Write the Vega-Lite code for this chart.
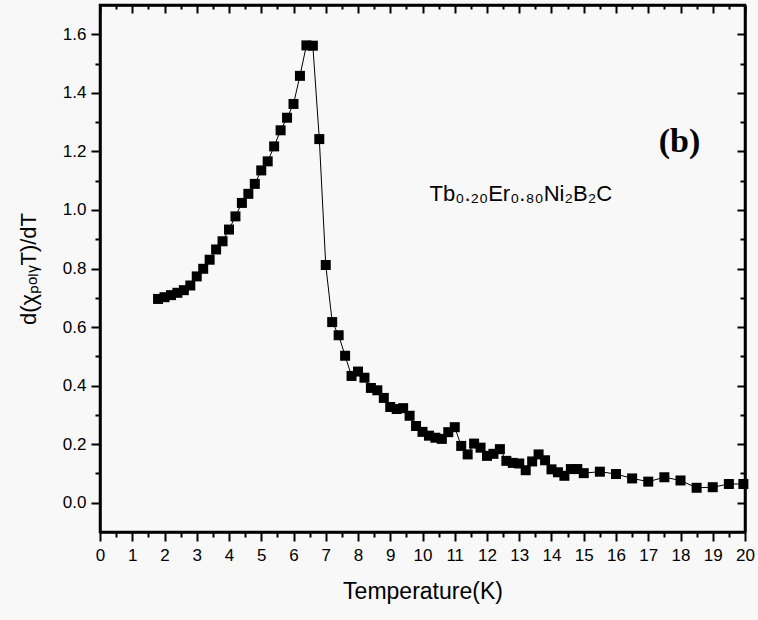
{
  "$schema": "https://vega.github.io/schema/vega-lite/v6.json",
  "width": 645,
  "height": 527,
  "autosize": {"type": "none"},
  "padding": {"left": 100, "top": 5, "right": 13, "bottom": 88},
  "background": "#f8f8f8",
  "view": {"stroke": "#000000", "strokeWidth": 2.5},
  "config": {
    "font": "Liberation Sans",
    "axis": {
      "domainColor": "#000000",
      "domainWidth": 2.5,
      "domainOpacity": 1,
      "tickColor": "#000000",
      "tickWidth": 2,
      "tickOpacity": 1,
      "labelColor": "#000000",
      "titleColor": "#000000",
      "grid": false,
      "labelFont": "Liberation Sans",
      "titleFont": "Liberation Sans",
      "labelFontSize": 17,
      "titleFontSize": 22,
      "titleFontWeight": "normal",
      "labelOverlap": false,
      "labelFlush": false
    }
  },
  "data": {
    "values": [
      {"T": 1.8, "v": 0.696}, {"T": 2.0, "v": 0.702}, {"T": 2.2, "v": 0.709}, {"T": 2.4, "v": 0.717},
      {"T": 2.6, "v": 0.726}, {"T": 2.8, "v": 0.742}, {"T": 3.0, "v": 0.773}, {"T": 3.2, "v": 0.799},
      {"T": 3.4, "v": 0.830}, {"T": 3.6, "v": 0.865}, {"T": 3.8, "v": 0.893}, {"T": 4.0, "v": 0.933},
      {"T": 4.2, "v": 0.978}, {"T": 4.4, "v": 1.024}, {"T": 4.6, "v": 1.055}, {"T": 4.8, "v": 1.089},
      {"T": 5.0, "v": 1.135}, {"T": 5.2, "v": 1.166}, {"T": 5.4, "v": 1.217}, {"T": 5.6, "v": 1.272},
      {"T": 5.8, "v": 1.315}, {"T": 6.0, "v": 1.362}, {"T": 6.2, "v": 1.458}, {"T": 6.4, "v": 1.562},
      {"T": 6.6, "v": 1.561}, {"T": 6.8, "v": 1.242}, {"T": 7.0, "v": 0.812}, {"T": 7.2, "v": 0.617},
      {"T": 7.4, "v": 0.572}, {"T": 7.6, "v": 0.502}, {"T": 7.8, "v": 0.433}, {"T": 8.0, "v": 0.448},
      {"T": 8.2, "v": 0.427}, {"T": 8.4, "v": 0.392}, {"T": 8.6, "v": 0.384}, {"T": 8.8, "v": 0.358},
      {"T": 9.0, "v": 0.327}, {"T": 9.2, "v": 0.320}, {"T": 9.4, "v": 0.323}, {"T": 9.6, "v": 0.297},
      {"T": 9.8, "v": 0.262}, {"T": 10.0, "v": 0.242}, {"T": 10.2, "v": 0.229}, {"T": 10.4, "v": 0.222},
      {"T": 10.6, "v": 0.218}, {"T": 10.8, "v": 0.241}, {"T": 11.0, "v": 0.258}, {"T": 11.2, "v": 0.194},
      {"T": 11.4, "v": 0.165}, {"T": 11.6, "v": 0.202}, {"T": 11.8, "v": 0.188}, {"T": 12.0, "v": 0.160},
      {"T": 12.2, "v": 0.167}, {"T": 12.4, "v": 0.183}, {"T": 12.6, "v": 0.143}, {"T": 12.8, "v": 0.136},
      {"T": 13.0, "v": 0.134}, {"T": 13.2, "v": 0.111}, {"T": 13.4, "v": 0.141}, {"T": 13.6, "v": 0.165},
      {"T": 13.8, "v": 0.145}, {"T": 14.0, "v": 0.114}, {"T": 14.2, "v": 0.104}, {"T": 14.4, "v": 0.092},
      {"T": 14.6, "v": 0.115}, {"T": 14.8, "v": 0.115}, {"T": 15.0, "v": 0.101}, {"T": 15.5, "v": 0.106},
      {"T": 16.0, "v": 0.098}, {"T": 16.5, "v": 0.083}, {"T": 17.0, "v": 0.072}, {"T": 17.5, "v": 0.087},
      {"T": 18.0, "v": 0.076}, {"T": 18.5, "v": 0.051}, {"T": 19.0, "v": 0.053}, {"T": 19.5, "v": 0.064},
      {"T": 19.95, "v": 0.064}
    ]
  },
  "resolve": {"axis": {"x": "independent", "y": "independent"}},
  "layer": [
    {
      "mark": {"type": "line", "color": "black", "strokeWidth": 1},
      "encoding": {
        "x": {
          "field": "T", "type": "quantitative",
          "scale": {"domain": [0, 20], "nice": false, "zero": false},
          "axis": {
            "orient": "bottom",
            "domainColor": "#000000",
            "title": "Temperature(K)",
            "titleFontSize": 23,
            "titlePadding": 17,
            "values": [0,0.5,1,1.5,2,2.5,3,3.5,4,4.5,5,5.5,6,6.5,7,7.5,8,8.5,9,9.5,10,10.5,11,11.5,12,12.5,13,13.5,14,14.5,15,15.5,16,16.5,17,17.5,18,18.5,19,19.5,20],
            "labelExpr": "round(datum.value*2) % 2 === 0 ? format(datum.value, 'd') : ''",
            "tickSize": {"condition": {"test": "round(datum.value*2) % 2 === 0", "value": 9}, "value": 5},
            "labelPadding": 6
          }
        },
        "y": {
          "field": "v", "type": "quantitative",
          "scale": {"domain": [-0.1, 1.7], "nice": false, "zero": false},
          "axis": {
            "orient": "left",
            "domainColor": "#000000",
            "title": "d(χₚₒₗᵧT)/dT",
            "titlePadding": 22,
            "values": [0,0.1,0.2,0.3,0.4,0.5,0.6,0.7,0.8,0.9,1.0,1.1,1.2,1.3,1.4,1.5,1.6],
            "labelExpr": "round(datum.value*10) % 2 === 0 ? format(datum.value, '.1f') : ''",
            "tickSize": {"condition": {"test": "round(datum.value*10) % 2 === 0", "value": 9}, "value": 5},
            "labelPadding": 5
          }
        }
      }
    },
    {
      "mark": {"type": "square", "color": "black", "opacity": 1, "size": 100},
      "encoding": {
        "x": {
          "field": "T", "type": "quantitative",
          "axis": {
            "orient": "top", "title": null, "labels": false,
            "domainColor": "#000000",
            "values": [0,0.5,1,1.5,2,2.5,3,3.5,4,4.5,5,5.5,6,6.5,7,7.5,8,8.5,9,9.5,10,10.5,11,11.5,12,12.5,13,13.5,14,14.5,15,15.5,16,16.5,17,17.5,18,18.5,19,19.5,20],
            "tickSize": {"condition": {"test": "round(datum.value*2) % 2 === 0", "value": -8}, "value": -4}
          }
        },
        "y": {
          "field": "v", "type": "quantitative",
          "axis": {
            "orient": "right", "title": null, "labels": false,
            "domainColor": "#000000",
            "values": [0,0.1,0.2,0.3,0.4,0.5,0.6,0.7,0.8,0.9,1.0,1.1,1.2,1.3,1.4,1.5,1.6],
            "tickSize": {"condition": {"test": "round(datum.value*10) % 2 === 0", "value": -8}, "value": -5}
          }
        }
      }
    },
    {
      "data": {"values": [{"T": 13.05, "v": 1.03, "label": "Tb₀.₂₀Er₀.₈₀Ni₂B₂C"}]},
      "mark": {"type": "text", "font": "Liberation Sans", "fontSize": 22, "align": "center", "baseline": "alphabetic", "color": "black"},
      "encoding": {
        "x": {"field": "T", "type": "quantitative", "axis": null},
        "y": {"field": "v", "type": "quantitative", "axis": null},
        "text": {"field": "label"}
      }
    },
    {
      "data": {"values": [{"T": 17.97, "v": 1.197, "label": "(b)"}]},
      "mark": {"type": "text", "font": "Liberation Serif", "fontSize": 34, "fontWeight": "bold", "align": "center", "baseline": "alphabetic", "color": "black"},
      "encoding": {
        "x": {"field": "T", "type": "quantitative", "axis": null},
        "y": {"field": "v", "type": "quantitative", "axis": null},
        "text": {"field": "label"}
      }
    }
  ]
}
